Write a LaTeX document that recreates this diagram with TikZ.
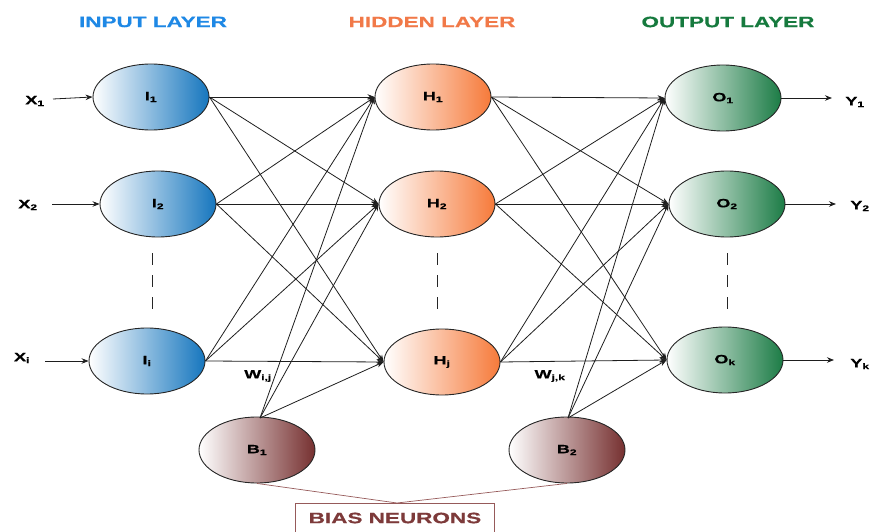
\documentclass[tikz,border=0pt]{standalone}
\usepackage{fontspec}
\setmainfont{Liberation Sans}
\newfontfamily\widesans[FakeStretch=1.5, BoldFeatures={FakeBold=0.6}]{Liberation Sans}
\usetikzlibrary{shapes.geometric,arrows.meta}
\definecolor{inblue}{RGB}{22,118,190}
\definecolor{hidorange}{RGB}{246,122,58}
\definecolor{outgreen}{RGB}{28,124,70}
\definecolor{biasred}{RGB}{118,48,48}
\definecolor{titleblue}{RGB}{30,136,229}
\definecolor{titleorange}{RGB}{241,121,72}
\definecolor{titlegreen}{RGB}{22,122,62}
\definecolor{biastext}{RGB}{125,58,58}
\definecolor{biasframe}{RGB}{150,90,90}
\definecolor{wire}{RGB}{30,30,30}
\tikzset{
  neuron/.style={ellipse, draw=black!85, line width=0.9pt, minimum width=116pt,
    minimum height=66pt, inner sep=0pt, shading=axis, shading angle=90,
    font=\widesans\bfseries\fontsize{12}{13}\selectfont},
  innode/.style={neuron, left color=white, right color=inblue},
  hidnode/.style={neuron, left color=white, right color=hidorange},
  outnode/.style={neuron, left color=white, right color=outgreen},
  biasnode/.style={neuron, left color=white, right color=biasred},
  layertitle/.style={font=\widesans\bfseries\fontsize{15}{16}\selectfont},
  sidelabel/.style={font=\widesans\bfseries\fontsize{12}{13}\selectfont},
  weightlabel/.style={font=\widesans\bfseries\fontsize{12}{13}\selectfont},
  conn/.style={draw=wire, line width=0.8pt, -{Stealth[length=7pt,width=5.5pt]}},
  dots/.style={draw=black!85, line width=1pt, dash pattern=on 12pt off 10pt},
  biaslink/.style={draw=biasframe, line width=0.7pt}
}
\begin{document}
\begin{tikzpicture}[x=1pt,y=-1pt]
\useasboundingbox (0,0) rectangle (871,532);

% layer titles
\node[layertitle, text=titleblue]   (tin)  at (153,22) {INPUT LAYER};
\node[layertitle, text=titleorange] (thid) at (432,22) {HIDDEN LAYER};
\node[layertitle, text=titlegreen]  (tout) at (728,22) {OUTPUT LAYER};

% neurons
\node[innode] (I1) at (151,97)  {I\textsubscript{1}};
\node[innode] (I2) at (158,204) {I\textsubscript{2}};
\node[innode] (Ii) at (147,361) {I\textsubscript{i}};

\node[hidnode] (H1) at (433,97)  {H\textsubscript{1}};
\node[hidnode] (H2) at (437,204) {H\textsubscript{2}};
\node[hidnode] (Hj) at (442,362) {H\textsubscript{j}};

\node[outnode] (O1) at (723,98)  {O\textsubscript{1}};
\node[outnode] (O2) at (727,204) {O\textsubscript{2}};
\node[outnode] (Ok) at (725,360) {O\textsubscript{k}};

\node[biasnode] (B1) at (257,450) {B\textsubscript{1}};
\node[biasnode] (B2) at (567,450) {B\textsubscript{2}};

% inputs
\node[sidelabel] (X1) at (35,101) {X\textsubscript{1}};
\node[sidelabel] (X2) at (28,205) {X\textsubscript{2}};
\node[sidelabel] (Xi) at (22,358) {X\textsubscript{i}};
\coordinate (x1s) at (53,99);
\coordinate (x2s) at (52,204);
\coordinate (xis) at (45,361);
\draw[conn] (x1s) -- (I1.west);
\draw[conn] (x2s) -- (I2.west);
\draw[conn] (xis) -- (Ii.west);

% outputs
\coordinate (y1e) at (832,98);
\coordinate (y2e) at (836,204);
\coordinate (yke) at (834,360);
\draw[conn] (O1.east) -- (y1e);
\draw[conn] (O2.east) -- (y2e);
\draw[conn] (Ok.east) -- (yke);
\node[sidelabel] (Y1) at (855,102) {Y\textsubscript{1}};
\node[sidelabel] (Y2) at (860,206) {Y\textsubscript{2}};
\node[sidelabel] (Yk) at (860,364) {Y\textsubscript{k}};

% input -> hidden weights
\foreach \a in {I1,I2,Ii}
  \foreach \b in {H1,H2,Hj}
    \draw[conn] (\a.east) -- (\b.west);

% hidden -> output weights
\foreach \a in {H1,H2,Hj}
  \foreach \b in {O1,O2,Ok}
    \draw[conn] (\a.east) -- (\b.west);

% bias links
\coordinate (b1top) at (260,418);
\coordinate (b2top) at (568,418);
\foreach \b in {H1,H2,Hj}
  \draw[conn] (b1top) -- (\b.west);
\foreach \b in {O1,O2,Ok}
  \draw[conn] (b2top) -- (\b.west);

% ellipsis markers between neurons
\draw[dots] (152,253) -- (152,315);
\draw[dots] (437,253) -- (437,315);
\draw[dots] (727,253) -- (727,315);

% weight labels
\node[weightlabel] (wij) at (258,376) {W\textsubscript{i,j}};
\node[weightlabel] (wjk) at (550,376) {W\textsubscript{j,k}};

% bias caption
\draw[draw=biasframe, line width=0.8pt] (295,540) -- (295,503) -- (494,503) -- (494,540);
\node[layertitle, text=biastext] (bias) at (395,518) {BIAS NEURONS};
\coordinate (bmeet) at (397,503);
\draw[biaslink] (B1.south) -- (bmeet);
\draw[biaslink] (B2.south) -- (bmeet);
\end{tikzpicture}
\end{document}
